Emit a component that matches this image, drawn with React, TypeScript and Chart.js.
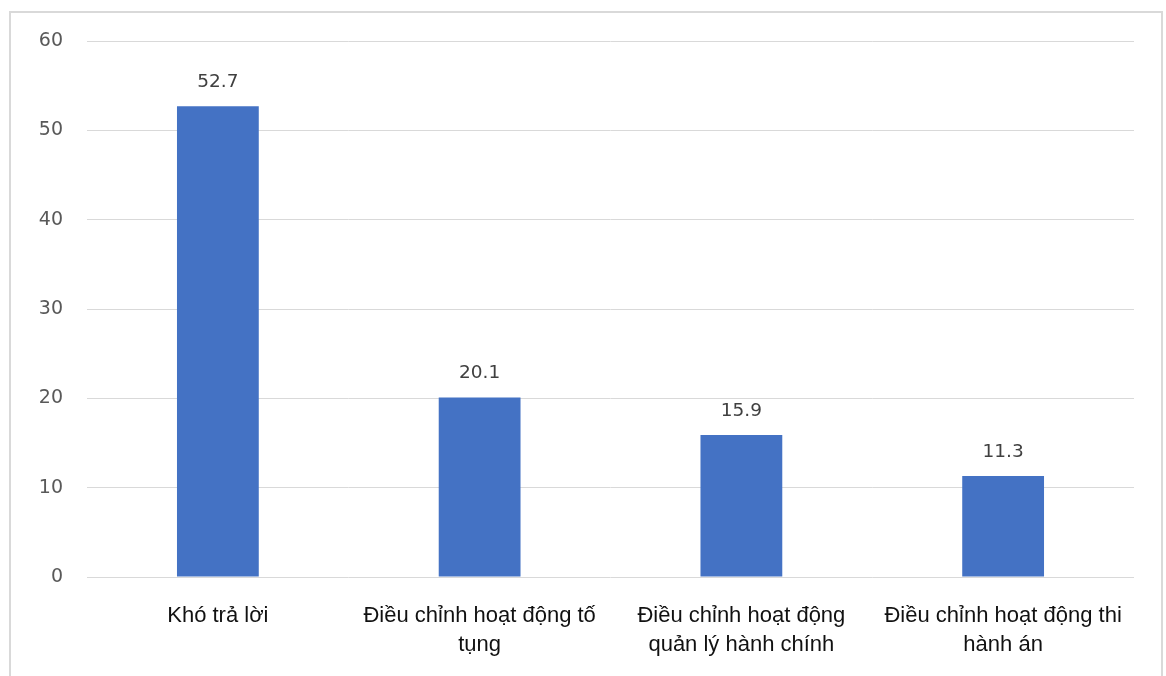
import React, { useEffect, useRef } from "react";
import { Chart, registerables } from "chart.js";

Chart.register(...registerables);

const categories: string[][] = [
  ["Khó trả lời"],
  ["Điều chỉnh hoạt động tố", "tụng"],
  ["Điều chỉnh hoạt động", "quản lý hành chính"],
  ["Điều chỉnh hoạt động thi", "hành án"],
];
const values: number[] = [52.7, 20.1, 15.9, 11.3];
const yTicks: number[] = [0, 10, 20, 30, 40, 50, 60];

const dataLabelPlugin = {
  id: "dataLabels",
  afterDatasetsDraw(chart: any) {
    const ctx = chart.ctx;
    const meta = chart.getDatasetMeta(0);
    ctx.save();
    ctx.font = "18.5px 'DejaVu Sans'";
    ctx.fillStyle = "#404040";
    ctx.textAlign = "center";
    ctx.textBaseline = "alphabetic";
    meta.data.forEach((bar: any, i: number) => {
      ctx.fillText(values[i].toFixed(1), bar.x, bar.y - 19);
    });
    ctx.restore();
  },
};

export default function App() {
  const ref = useRef<HTMLCanvasElement>(null);
  useEffect(() => {
    if (!ref.current) return;
    const chart = new Chart(ref.current, {
      type: "bar",
      data: {
        labels: categories,
        datasets: [
          {
            data: values,
            backgroundColor: "#4472C4",
            barPercentage: 0.625,
            categoryPercentage: 0.5,
          },
        ],
      },
      options: {
        animation: false,
        responsive: false,
        maintainAspectRatio: false,
        layout: { padding: { left: 0, top: 41, right: 32, bottom: 0 } },
        plugins: {
          legend: { display: false },
          tooltip: { enabled: false },
        },
        scales: {
          x: {
            grid: { display: false },
            border: { display: false },
            ticks: {
              color: "#111111",
              font: { family: "'Liberation Sans', Arial", size: 22, lineHeight: 1.32 },
              padding: 16,
              maxRotation: 0,
              autoSkip: false,
            },
            afterFit: (s: any) => {
              s.height = 99;
            },
          },
          y: {
            min: 0,
            max: 60,
            afterBuildTicks: (s: any) => {
              s.ticks = yTicks.map((v) => ({ value: v }));
            },
            grid: { color: "#d9d9d9", lineWidth: 1, drawTicks: false },
            border: { display: false },
            ticks: {
              color: "#595959",
              font: { family: "'DejaVu Sans'", size: 19 },
              padding: 24,
            },
            afterFit: (s: any) => {
              s.width = 87;
            },
          },
        },
      },
      plugins: [dataLabelPlugin],
    });
    return () => chart.destroy();
  }, []);
  return (
    <>
      <div
        style={{
          position: "fixed",
          left: 9,
          top: 11,
          width: 1154,
          height: 720,
          border: "2px solid #d9d9d9",
          boxSizing: "border-box",
          background: "#ffffff",
        }}
      />
      <canvas
        ref={ref}
        width={1166}
        height={676}
        style={{ position: "fixed", left: 0, top: 0, width: 1166, height: 676 }}
      />
    </>
  );
}
